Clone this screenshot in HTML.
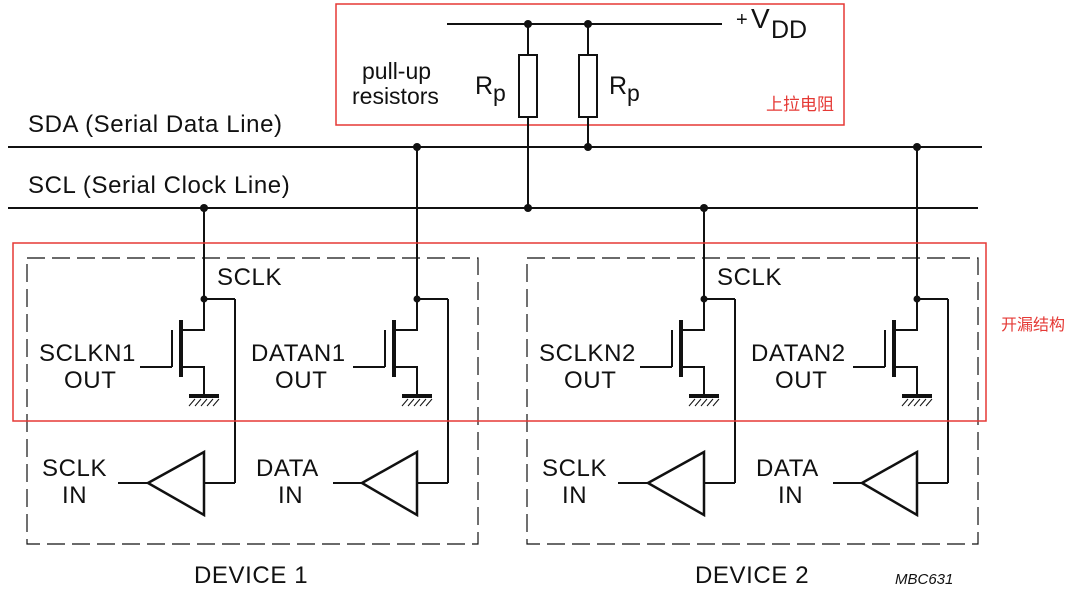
<!DOCTYPE html>
<html><head><meta charset="utf-8"><style>
html,body{margin:0;padding:0;background:#fff;}
svg{display:block;}
text{font-family:"Liberation Sans","Noto Sans CJK SC",sans-serif;fill:#111;}
.ls{letter-spacing:0.6px;}
</style></head><body>
<svg width="1080" height="592" viewBox="0 0 1080 592" xmlns="http://www.w3.org/2000/svg">
<defs>
<g id="dev" stroke="#111" fill="none" stroke-width="2">
  <line x1="204" y1="299" x2="235" y2="299"/>
  <line x1="235" y1="299" x2="235" y2="483"/>
  <polyline points="204,299 204,330 181,330"/>
  <polyline points="181,367 204,367 204,396"/>
  <line x1="181" y1="320" x2="181" y2="377" stroke-width="4"/>
  <line x1="172" y1="330" x2="172" y2="367"/>
  <line x1="140" y1="367" x2="172" y2="367"/>
  <line x1="189" y1="396" x2="219" y2="396" stroke-width="4"/>
  <path d="M195 399 l-6 7 M201 399 l-6 7 M207 399 l-6 7 M213 399 l-6 7 M219 399 l-6 7" stroke-width="1"/>
  <polygon points="148,483 204,452 204,515" stroke-width="2.5"/>
  <line x1="204" y1="483" x2="235" y2="483"/>
  <line x1="118" y1="483" x2="148" y2="483"/>
  <line x1="417" y1="299" x2="448" y2="299"/>
  <line x1="448" y1="299" x2="448" y2="483"/>
  <polyline points="417,299 417,330 394,330"/>
  <polyline points="394,367 417,367 417,396"/>
  <line x1="394" y1="320" x2="394" y2="377" stroke-width="4"/>
  <line x1="385" y1="330" x2="385" y2="367"/>
  <line x1="353" y1="367" x2="385" y2="367"/>
  <line x1="402" y1="396" x2="432" y2="396" stroke-width="4"/>
  <path d="M408 399 l-6 7 M414 399 l-6 7 M420 399 l-6 7 M426 399 l-6 7 M432 399 l-6 7" stroke-width="1"/>
  <polygon points="362,483 417,452 417,515" stroke-width="2.5"/>
  <line x1="417" y1="483" x2="448" y2="483"/>
  <line x1="333" y1="483" x2="362" y2="483"/>
  <rect x="27" y="258" width="451" height="286" stroke-width="1.2" stroke-dasharray="18,7"/>
  <circle cx="204" cy="299" r="3.5" fill="#111" stroke="none"/>
  <circle cx="417" cy="299" r="3.5" fill="#111" stroke="none"/>
</g>
</defs>

<rect x="336" y="4" width="508" height="121" fill="none" stroke="#e53935" stroke-width="1.5"/>
<g stroke="#111" stroke-width="2" fill="none">
  <line x1="447" y1="24" x2="722" y2="24"/>
  <line x1="528" y1="24" x2="528" y2="55"/>
  <line x1="588" y1="24" x2="588" y2="55"/>
  <rect x="519" y="55" width="18" height="62"/>
  <rect x="579" y="55" width="18" height="62"/>
  <line x1="528" y1="117" x2="528" y2="208"/>
  <line x1="588" y1="117" x2="588" y2="147"/>
  <line x1="8" y1="147" x2="982" y2="147"/>
  <line x1="8" y1="208" x2="978" y2="208"/>
  <line x1="204" y1="208" x2="204" y2="299"/>
  <line x1="417" y1="147" x2="417" y2="299"/>
  <line x1="704" y1="208" x2="704" y2="299"/>
  <line x1="917" y1="147" x2="917" y2="299"/>
</g>
<g fill="#111">
  <circle cx="528" cy="24" r="4"/><circle cx="588" cy="24" r="4"/>
  <circle cx="528" cy="208" r="4"/><circle cx="588" cy="147" r="4"/>
  <circle cx="204" cy="208" r="4"/><circle cx="417" cy="147" r="4"/>
  <circle cx="704" cy="208" r="4"/><circle cx="917" cy="147" r="4"/>
</g>
<use href="#dev"/>
<use href="#dev" transform="translate(500,0)"/>

<rect x="13" y="243" width="973" height="178" fill="none" stroke="#e53935" stroke-width="1.5"/>

<text x="736" y="26" font-size="20">+</text>
<text x="751" y="28" font-size="28">V</text>
<text x="771" y="38" font-size="25">DD</text>
<text x="362" y="79" font-size="23">pull-up</text>
<text x="352" y="104" font-size="23">resistors</text>
<text x="475" y="94" font-size="25">R</text><text x="493" y="101" font-size="23">p</text>
<text x="609" y="94" font-size="25">R</text><text x="627" y="101" font-size="23">p</text>
<text x="766" y="110" font-size="17" style="fill:#e53935">上拉电阻</text>
<text class="ls" x="28" y="132" font-size="24">SDA (Serial Data Line)</text>
<text class="ls" x="28" y="193" font-size="24">SCL (Serial Clock Line)</text>
<text x="1001" y="330" font-size="16" style="fill:#e53935">开漏结构</text>

<g font-size="24" class="ls">
<text x="217" y="285">SCLK</text>
<text x="39" y="361">SCLKN1</text><text x="64" y="388">OUT</text>
<text x="251" y="361">DATAN1</text><text x="275" y="388">OUT</text>
<text x="42" y="476">SCLK</text><text x="62" y="503">IN</text>
<text x="256" y="476">DATA</text><text x="278" y="503">IN</text>
<text x="717" y="285">SCLK</text>
<text x="539" y="361">SCLKN2</text><text x="564" y="388">OUT</text>
<text x="751" y="361">DATAN2</text><text x="775" y="388">OUT</text>
<text x="542" y="476">SCLK</text><text x="562" y="503">IN</text>
<text x="756" y="476">DATA</text><text x="778" y="503">IN</text>
<text x="194" y="583">DEVICE 1</text>
<text x="695" y="583">DEVICE 2</text>
</g>
<text x="895" y="584" font-size="15" font-style="italic">MBC631</text>
</svg>
</body></html>
